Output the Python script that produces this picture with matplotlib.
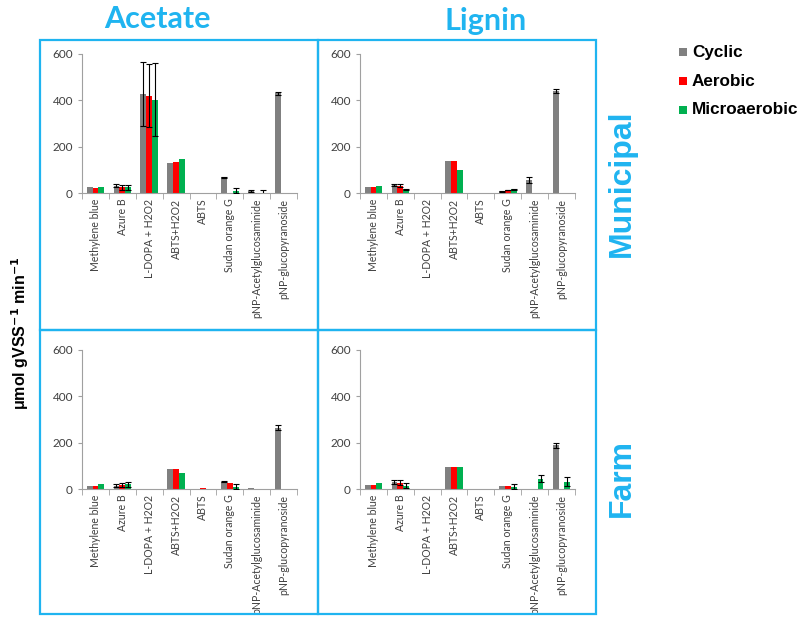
import matplotlib.pyplot as plt
import numpy as np
from matplotlib.patches import Rectangle

substrates = ["Methylene blue", "Azure B", "L-DOPA + H2O2", "ABTS+H2O2", "ABTS",
              "Sudan orange G", "pNP-Acetylglucosaminide", "pNP-glucopyranoside"]
series = ["Cyclic", "Aerobic", "Microaerobic"]
colors = ["#808080", "#FF0000", "#00B050"]

# Acetate / Municipal
ace_mun_cyc = [25, 32, 428, 130, 2, 68, 8, 430]
ace_mun_aer = [22, 24, 420, 132, 0, 0, -2, -2]
ace_mun_mic = [24, 25, 403, 145, 0, 10, 0, -2]
ace_mun_cyc_err = [0, 8, 137, 0, 0, 3, 5, 8]
ace_mun_aer_err = [0, 10, 135, 0, 0, 0, 0, 0]
ace_mun_mic_err = [0, 10, 157, 0, 0, 10, 15, 0]

# Lignin / Municipal
lig_mun_cyc = [25, 36, 0, 138, 2, 8, 55, 440]
lig_mun_aer = [25, 32, 0, 138, 0, 13, 0, 0]
lig_mun_mic = [30, 17, 0, 100, 0, 16, 0, 0]
lig_mun_cyc_err = [0, 5, 0, 0, 0, 2, 12, 8]
lig_mun_aer_err = [0, 5, 0, 0, 0, 2, 0, 0]
lig_mun_mic_err = [0, 2, 0, 0, 0, 2, 0, 0]

# Acetate / Farm
ace_farm_cyc = [14, 15, 0, 85, 0, 32, 4, 265]
ace_farm_aer = [14, 17, 0, 87, 3, 28, 0, 0]
ace_farm_mic = [22, 20, 0, 70, 0, 10, 0, 0]
ace_farm_cyc_err = [0, 8, 0, 0, 0, 3, 0, 12]
ace_farm_aer_err = [0, 8, 0, 0, 0, 0, 0, 0]
ace_farm_mic_err = [0, 12, 0, 0, 0, 10, 0, 0]

# Lignin / Farm
lig_farm_cyc = [17, 30, 0, 95, 0, 13, 0, 188]
lig_farm_aer = [17, 28, 0, 95, 0, 14, 0, 0]
lig_farm_mic = [25, 15, 0, 95, 0, 10, 45, 32]
lig_farm_cyc_err = [0, 10, 0, 0, 0, 0, 0, 10]
lig_farm_aer_err = [0, 10, 0, 0, 0, 0, 0, 0]
lig_farm_mic_err = [0, 10, 0, 0, 0, 10, 15, 18]

panels = [
    ((ace_mun_cyc, ace_mun_aer, ace_mun_mic), (ace_mun_cyc_err, ace_mun_aer_err, ace_mun_mic_err)),
    ((lig_mun_cyc, lig_mun_aer, lig_mun_mic), (lig_mun_cyc_err, lig_mun_aer_err, lig_mun_mic_err)),
    ((ace_farm_cyc, ace_farm_aer, ace_farm_mic), (ace_farm_cyc_err, ace_farm_aer_err, ace_farm_mic_err)),
    ((lig_farm_cyc, lig_farm_aer, lig_farm_mic), (lig_farm_cyc_err, lig_farm_aer_err, lig_farm_mic_err)),
]

W, H = 803, 618
fig = plt.figure(figsize=(W / 100, H / 100), dpi=100)
blue = "#1FB4F0"
tick_font = "Lato"
head_font = "Liberation Sans"

def fx(px):
    return px / W

def fy(py):
    return 1 - py / H

# panel frames
for x0, x1 in [(40, 318), (318, 596)]:
    for y0, y1 in [(40, 330), (330, 614)]:
        fig.add_artist(Rectangle((fx(x0), fy(y1)), fx(x1 - x0), (y1 - y0) / H,
                                 transform=fig.transFigure, fill=False,
                                 edgecolor=blue, linewidth=1.6))

axes_pos = [(82, 54), (360, 54), (82, 350), (360, 350)]
ax_w, ax_h = 215, 139
x = np.arange(len(substrates))
bw = 0.217

for (px, py), (vals, errs) in zip(axes_pos, panels):
    ax = fig.add_axes([fx(px), fy(py + ax_h), ax_w / W, ax_h / H])
    for i, (v, e) in enumerate(zip(vals, errs)):
        pos = x + (i - 1) * bw
        ax.bar(pos, v, bw, color=colors[i], zorder=2)
        e = np.array(e)
        m = e > 0
        ax.errorbar(pos[m], np.array(v)[m], yerr=e[m], fmt="none", ecolor="black",
                    elinewidth=0.8, capsize=2, capthick=0.8, zorder=3)
    ax.set_xlim(-0.5, len(substrates) - 0.5)
    ax.set_ylim(0, 600)
    ax.set_yticks([0, 200, 400, 600])
    ax.set_xticks(x)
    ax.set_xticklabels(substrates, rotation=90, fontsize=7.6, color="#404040",
                       family=tick_font)
    for lab in ax.get_yticklabels():
        lab.set_family(tick_font)
    ax.set_xticks(np.arange(-0.5, len(substrates)), minor=True)
    ax.tick_params(axis="x", which="major", length=0, pad=4)
    ax.tick_params(axis="x", which="minor", length=4, color="#A0A0A0", direction="out")
    ax.tick_params(axis="y", labelsize=8.5, labelcolor="#404040", length=3, color="#A0A0A0")
    for s in ["top", "right"]:
        ax.spines[s].set_visible(False)
    for s in ["left", "bottom"]:
        ax.spines[s].set_color("#A0A0A0")
        ax.spines[s].set_linewidth(0.8)

# column and row headings
fig.text(fx(157), fy(19), "Acetate", color=blue, fontsize=22, fontweight="bold",
         family="Lato", ha="center", va="center")
fig.text(fx(486), fy(21), "Lignin", color=blue, fontsize=22, fontweight="bold",
         family="Lato", ha="center", va="center")
fig.text(fx(622), fy(183), "Municipal", color=blue, fontsize=23, fontweight="bold",
         family=head_font, ha="center", va="center", rotation=90)
fig.text(fx(622), fy(478), "Farm", color=blue, fontsize=23, fontweight="bold",
         family=head_font, ha="center", va="center", rotation=90)

fig.text(fx(20), fy(333), r"μmol gVSS$^{\mathbf{-1}}$ min$^{\mathbf{-1}}$", fontsize=11.5,
         fontweight="bold", family=head_font, ha="center", va="center", rotation=90)

# legend
for i, (name, c) in enumerate(zip(series, colors)):
    yy = 52 + i * 29
    fig.add_artist(Rectangle((fx(679), fy(yy + 4)), 8 / W, 8 / H, transform=fig.transFigure,
                             facecolor=c, edgecolor="none"))
    fig.text(fx(692), fy(yy), name, fontsize=12.3, fontweight="bold", family=head_font,
             ha="left", va="center")

fig.savefig("out.png", dpi=100)
